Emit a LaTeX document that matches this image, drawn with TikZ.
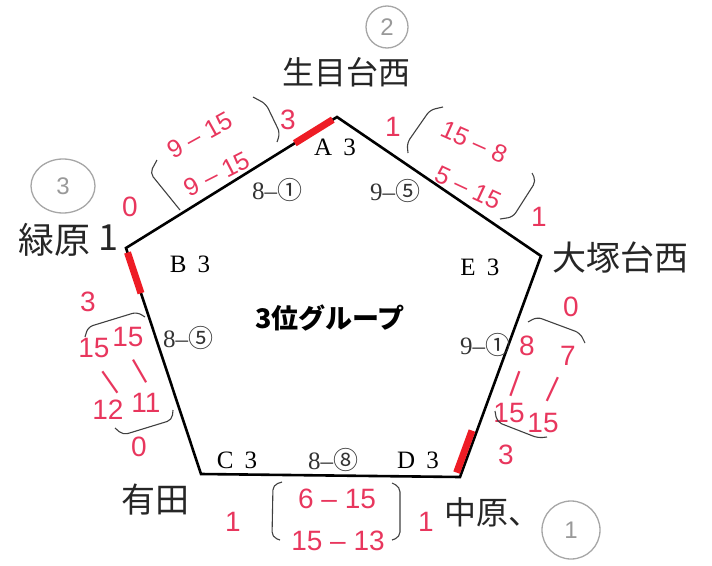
\documentclass[tikz,border=0pt]{standalone}
\usepackage{fontspec}
\setmainfont{Liberation Serif}
\setsansfont{Liberation Sans}
\newfontfamily\jpfont{Noto Sans CJK JP}
\usetikzlibrary{calc,shapes.geometric}
\definecolor{pen}{HTML}{E8365D}
\definecolor{marker}{HTML}{EE1C25}

\begin{document}
\begin{tikzpicture}[x=1pt, y=-1pt,
  side/.style={draw=black, line width=2.6pt, line join=miter},
  hilite/.style={draw=marker, line width=7pt},
  lab/.style={font=\fontsize{25}{25}\selectfont, inner sep=0pt},
  game/.style={font=\fontsize{25}{25}\selectfont, inner sep=0pt, text=black!80},
  title/.style={font=\jpfont\bfseries\fontsize{27}{27}\selectfont, inner sep=0pt},
  score/.style={text=pen, font=\sffamily\fontsize{28}{28}\selectfont, inner sep=0pt},
  tilted/.style={score, font=\sffamily\fontsize{25}{25}\selectfont},
  team/.style={font=\jpfont\fontsize{32}{32}\selectfont, inner sep=0pt, text=black!85},
  rank/.style={circle, draw=black!35, line width=1.3pt, text=black!40,
               font=\sffamily\fontsize{24}{24}\selectfont, inner sep=0pt},
  brace/.style={draw=black!75, line width=1.1pt, rounded corners=5pt}
]
\useasboundingbox (0,0) rectangle (712,565);

% pentagon corners
\coordinate (A) at (337,117);
\coordinate (B) at (126,248);
\coordinate (C) at (201,474);
\coordinate (D) at (460,477);
\coordinate (E) at (541,256);

\draw[side] (A) -- (B) -- (C) -- (D) -- (E) -- cycle;

% red markers
\draw[hilite] ($(A)!0.02!(B)$) -- ($(A)!0.2!(B)$);
\draw[hilite] ($(B)!0.02!(C)$) -- ($(B)!0.2!(C)$);
\draw[hilite] ([xshift=-5pt]$(D)!0.02!(E)$) -- ([xshift=-5pt]$(D)!0.21!(E)$);

% printed labels
\node[lab] (lA) at (335,147) {A\hspace{0.45em}3};
\node[lab] (lB) at (190,264) {B\hspace{0.45em}3};
\node[lab] (lC) at (237,460) {C\hspace{0.45em}3};
\node[lab] (lD) at (418,460) {D\hspace{0.45em}3};
\node[lab] (lE) at (480,267) {E\hspace{0.45em}3};

\node[game] (gAB) at (277,190) {8--{\jpfont ①}};
\node[game] (gAE) at (395,191) {9--{\jpfont ⑤}};
\node[game] (gBC) at (188,338) {8--{\jpfont ⑤}};
\node[game] (gDE) at (485,345) {9--{\jpfont ①}};
\node[game] (gCD) at (333,460) {8--{\jpfont ⑧}};

\node[title] (grp) at (330,318) {3位グループ};

% school names
\node[team] (nA) at (346,72) {生目台西};
\node[team, font=\jpfont\fontsize{36}{36}\selectfont] (nB) at (55,240) {緑原};
\node[team, font=\jpfont\fontsize{36}{36}\selectfont] (nB1) at (108,238) {1};
\node[team, font=\jpfont\fontsize{34}{34}\selectfont] (nE) at (620,258) {大塚台西};
\node[team, font=\jpfont\fontsize{34}{34}\selectfont] (nC) at (155,500) {有田};
\node[team] (nD) at (492,512) {中原、};

% ranks
\node[rank, minimum size=42pt] (rA) at (387,27) {2};
\node[rank, ellipse, minimum width=64pt, minimum height=54pt] (rB) at (63,186) {3};
\node[rank, minimum size=58pt] (rD) at (571,530) {1};

% scores A-B
\node[score] (sA1) at (288,120) {3};
\node[tilted, rotate=29] (sAB1) at (200,135) {9 -- 15};
\node[tilted, rotate=27] (sAB2) at (217,174) {9 -- 15};
\node[score] (sB1) at (130,207) {0};
\draw[brace] (157,160) -- (150,173) -- (180,210);
\draw[brace] (253,97) -- (266,104) -- (280,133) -- (277,142);

% scores A-E
\node[score] (sA2) at (393,127) {1};
\node[tilted, rotate=-24] (sAE1) at (474,142) {15 -- 8};
\node[tilted, rotate=-25] (sAE2) at (468,188) {5 -- 15};
\node[score] (sE1) at (539,217) {1};
\draw[brace] (443,107) -- (430,110) -- (407,143) -- (408,153);
\draw[brace] (532,173) -- (536,181) -- (513,217) -- (500,219);

% scores B-C
\node[score] (sB2) at (88,302) {3};
\node[score] (sBC1) at (94,348) {15};
\node[score] (sBC2) at (128,337) {15};
\node[score, rotate=35] (sBC3) at (110,383) {|};
\node[score, rotate=30] (sBC4) at (140,371) {|};
\node[score] (sBC5) at (108,410) {12};
\node[score] (sBC6) at (146,403) {11};
\node[score] (sC1) at (139,447) {0};
\draw[brace] (85,337) -- (88,327) -- (137,312) -- (145,317);
\draw[brace] (173,410) -- (172,420) -- (123,435) -- (115,428);

% scores D-E
\node[score] (sE2) at (571,307) {0};
\node[score] (sDE1) at (527,346) {8};
\node[score] (sDE2) at (568,356) {7};
\node[score, rotate=-20] (sDE3) at (515,384) {|};
\node[score, rotate=-25] (sDE4) at (553,390) {|};
\node[score] (sDE5) at (509,413) {15};
\node[score] (sDE6) at (543,423) {15};
\node[score] (sD1) at (506,455) {3};
\draw[brace] (528,322) -- (537,317) -- (580,333) -- (585,343);
\draw[brace] (495,411) -- (497,422) -- (538,438) -- (547,437);

% scores C-D
\node[score] (sC2) at (233,522) {1};
\node[score] (sCD1) at (337,499) {6 -- 15};
\node[score] (sCD2) at (338,541) {15 -- 13};
\node[score] (sD2) at (426,522) {1};
\draw[brace] (282,482) -- (273,485) -- (272,537) -- (280,540);
\draw[brace] (392,483) -- (400,487) -- (400,537) -- (392,540);
\end{tikzpicture}
\end{document}
